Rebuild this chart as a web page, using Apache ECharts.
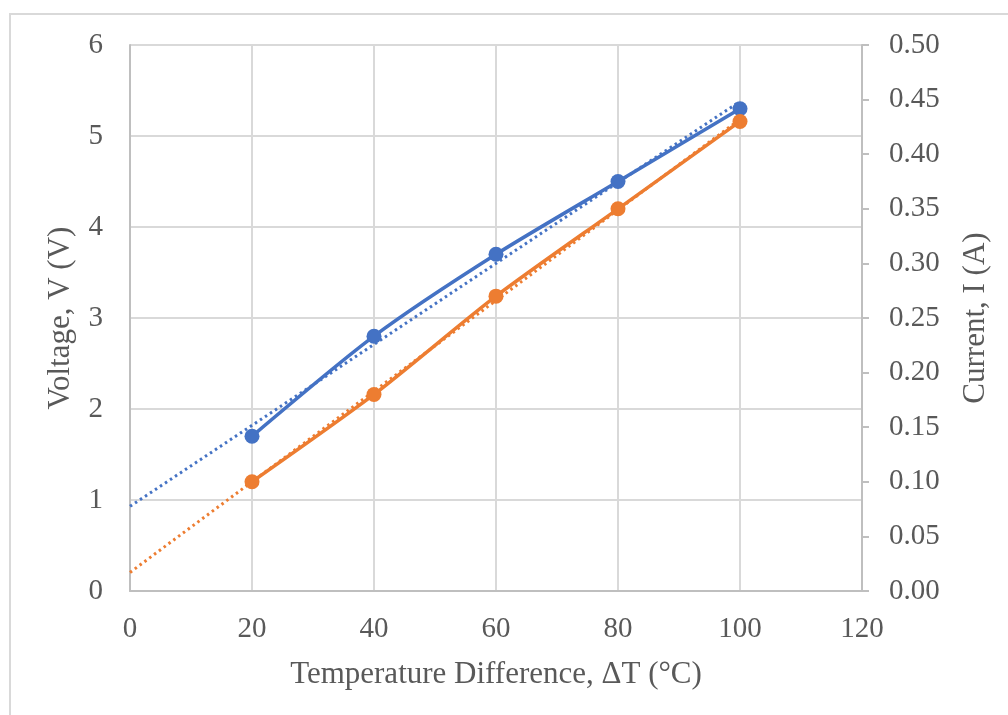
<!DOCTYPE html>
<html><head><meta charset="utf-8">
<script src="https://cdn.jsdelivr.net/npm/echarts@6/dist/echarts.min.js"></script>
<style>html,body{margin:0;padding:0;background:#fff}#c{width:1008px;height:715px}</style>
</head><body><div id="c"></div>
<script>
const deltaT = [20, 40, 60, 80, 100];
const voltage = [1.7, 2.8, 3.7, 4.5, 5.3];
const current = [0.10, 0.18, 0.27, 0.35, 0.43];
const voltageTrend = [[0, 0.93], [100, 5.38]];
const currentTrend = [[0, 0.017], [100, 0.432]];

const FONT = '"Liberation Serif", "Times New Roman", serif';
const TXT = '#595959';
const chart = echarts.init(document.getElementById('c'), null, {renderer: 'canvas'});
const pair = (xs, ys) => xs.map((x, i) => [x, ys[i]]);
chart.setOption({
  animation: false,
  backgroundColor: '#fff',
  graphic: [{type: 'rect', shape: {x: 10, y: 14, width: 1100, height: 800}, style: {fill: 'none', stroke: '#d9d9d9', lineWidth: 2}, z: -1}],
  grid: {left: 130, right: 146, top: 45, bottom: 124},
  xAxis: {
    type: 'value', min: 0, max: 120, interval: 20,
    name: 'Temperature Difference, ΔT (°C)', nameLocation: 'middle', nameGap: 68,
    nameTextStyle: {fontFamily: FONT, fontSize: 31, color: TXT},
    axisLine: {lineStyle: {color: '#bfbfbf', width: 2}},
    axisTick: {show: false},
    axisLabel: {fontFamily: FONT, fontSize: 29, color: TXT, margin: 24},
    splitLine: {lineStyle: {color: '#d9d9d9', width: 2}}
  },
  yAxis: [{
    type: 'value', min: 0, max: 6, interval: 1,
    name: 'Voltage, V (V)', nameLocation: 'middle', nameGap: 54, nameRotate: 90,
    nameTextStyle: {fontFamily: FONT, fontSize: 31, color: TXT},
    axisLine: {show: true, lineStyle: {color: '#bfbfbf', width: 2}},
    axisTick: {show: false},
    axisLabel: {fontFamily: FONT, fontSize: 29, color: TXT, margin: 27},
    splitLine: {lineStyle: {color: '#d9d9d9', width: 2}}
  }, {
    type: 'value', min: 0, max: 0.5, interval: 0.05, position: 'right',
    name: 'Current, I (A)', nameLocation: 'middle', nameGap: 98, nameRotate: 90,
    nameTextStyle: {fontFamily: FONT, fontSize: 31, color: TXT},
    axisLine: {show: true, lineStyle: {color: '#bfbfbf', width: 2}},
    axisTick: {show: true, length: 7, lineStyle: {color: '#bfbfbf', width: 2}},
    axisLabel: {fontFamily: FONT, fontSize: 29, color: TXT, margin: 27, formatter: v => v.toFixed(2)},
    splitLine: {show: false}
  }],
  series: [
    {type: 'line', name: 'Voltage trend', yAxisIndex: 0, data: voltageTrend, symbol: 'none',
     lineStyle: {color: '#4472C4', width: 3, type: [2.5, 3.5]}, z: 3},
    {type: 'line', name: 'Current trend', yAxisIndex: 1, data: currentTrend, symbol: 'none',
     lineStyle: {color: '#ED7D31', width: 3, type: [2.5, 3.5]}, z: 3},
    {type: 'line', name: 'Voltage', yAxisIndex: 0, data: pair(deltaT, voltage), smooth: 0.25,
     symbol: 'circle', symbolSize: 15, itemStyle: {color: '#4472C4'},
     lineStyle: {color: '#4472C4', width: 3.5}, z: 4},
    {type: 'line', name: 'Current', yAxisIndex: 1, data: pair(deltaT, current), smooth: 0.25,
     symbol: 'circle', symbolSize: 15, itemStyle: {color: '#ED7D31'},
     lineStyle: {color: '#ED7D31', width: 3.5}, z: 4}
  ]
});
</script></body></html>
